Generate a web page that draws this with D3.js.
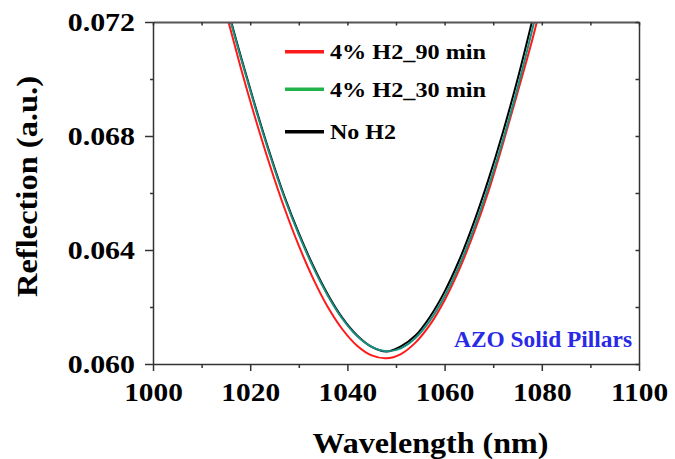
<!DOCTYPE html>
<html><head><meta charset="utf-8">
<script src="https://cdn.jsdelivr.net/npm/d3@7"></script>
<style>
body{margin:0;background:#fff;}
text{font-family:"Liberation Serif","Times New Roman",serif;font-weight:bold;fill:#000;}
</style>
</head><body>
<svg id="c" width="675" height="459"></svg>
<script>
// ---- data ----
const wavelengths = [1012,1015,1018,1021,1024,1027,1030,1033,1036,1039,1042,1045,1048,1051,1054,1057,1060,1063,1066,1069,1072,1075,1078,1081];
const h2_90min = [0.07435,0.07234,0.07043,0.06865,0.06700,0.06549,0.06415,0.06298,0.06199,0.06121,0.06064,0.06030,0.06020,0.06035,0.06075,0.06138,0.06224,0.06331,0.06459,0.06605,0.06773,0.06952,0.07135,0.07340];
const h2_30min = [0.07468,0.07265,0.07078,0.06902,0.06736,0.06585,0.06454,0.06338,0.06239,0.06158,0.06098,0.06060,0.06045,0.06055,0.06091,0.06153,0.06238,0.06345,0.06474,0.06621,0.06786,0.06968,0.07170,0.07387];
const noH2 = [0.07473,0.07270,0.07083,0.06907,0.06741,0.06590,0.06459,0.06343,0.06243,0.06161,0.06100,0.06060,0.06044,0.06062,0.06100,0.06166,0.06254,0.06364,0.06496,0.06646,0.06813,0.06998,0.07203,0.07421];
const seriesNames = ["4% H2_90 min","4% H2_30 min","No H2"];
const xTickValues = [1000,1020,1040,1060,1080,1100];
const xMinorValues = [1010,1030,1050,1070,1090];
const yTickValues = [0.060,0.064,0.068,0.072];
const yMinorValues = [0.062,0.066,0.070];
const annotation = "AZO Solid Pillars";
const xTitle = "Wavelength (nm)";
const yTitle = "Reflection (a.u.)";

// ---- layout ----
const L=153, R=639, T=22, B=364;
const svg = d3.select("#c");
const x = d3.scaleLinear().domain([1000,1100]).range([L,R]);
const y = d3.scaleLinear().domain([0.060,0.072]).range([B,T]);

svg.append("defs").append("clipPath").attr("id","clip")
  .append("rect").attr("x",L).attr("y",T).attr("width",R-L).attr("height",B-T);

const legendColors = ["#ff1a1a","#22b24c","#000000"];
const drawOrder = [[h2_90min,"#ff1a1a"],[noH2,"#000"],[h2_30min,"#1a8f80"]];

const line = d3.line().x((d,i)=>x(wavelengths[i])).y(d=>y(d)).curve(d3.curveCatmullRom);
const g = svg.append("g").attr("clip-path","url(#clip)");
drawOrder.forEach(([vals,col])=>{
  g.append("path").datum(vals).attr("d",line).attr("fill","none")
   .attr("stroke",col).attr("stroke-width",2);
});

// ---- axes ----
const axisColor = "#333";
function styleAxis(sel){
  sel.selectAll("path,line").attr("stroke",axisColor).attr("stroke-width",1.5);
}
// bottom
const bx = svg.append("g").attr("transform",`translate(0,${B})`)
  .call(d3.axisBottom(x).tickValues(xTickValues).tickSize(7).tickSizeOuter(0).tickFormat(d3.format("d")));
bx.selectAll("text").attr("y",0).attr("dy",0)
  .attr("transform","translate(0,37) scale(1.13,1)")
  .style("font-size","26px").attr("fill","#000");
styleAxis(bx);
const bxm = svg.append("g").attr("transform",`translate(0,${B})`)
  .call(d3.axisBottom(x).tickValues(xMinorValues).tickSize(4).tickSizeOuter(0).tickFormat(""));
styleAxis(bxm); bxm.select(".domain").remove();
// top
const tx = svg.append("g").attr("transform",`translate(0,${T})`)
  .call(d3.axisTop(x).tickValues(xTickValues.concat(xMinorValues)).tickSize(-3.5).tickSizeOuter(0).tickFormat(""));
styleAxis(tx);
tx.select(".domain").attr("stroke","#555").attr("stroke-width",2);
// left
const ly = svg.append("g").attr("transform",`translate(${L},0)`)
  .call(d3.axisLeft(y).tickValues(yTickValues).tickSize(8).tickSizeOuter(0).tickFormat(d3.format(".3f")));
ly.selectAll("text").attr("x",0).attr("dy","0.34em")
  .attr("transform","translate(-18,0) scale(1.15,1)")
  .style("font-size","26px").attr("fill","#000");
styleAxis(ly);
const lym = svg.append("g").attr("transform",`translate(${L},0)`)
  .call(d3.axisLeft(y).tickValues(yMinorValues).tickSize(3).tickSizeOuter(0).tickFormat(""));
styleAxis(lym); lym.select(".domain").remove();
// right
const ry = svg.append("g").attr("transform",`translate(${R},0)`)
  .call(d3.axisRight(y).tickValues(yTickValues.concat(yMinorValues)).tickSize(-3.5).tickSizeOuter(0).tickFormat(""));
styleAxis(ry);

// ---- titles ----
svg.append("text").attr("x",430.5).attr("y",452.7).attr("text-anchor","middle")
  .style("font-size","29px").attr("textLength",236).attr("lengthAdjust","spacingAndGlyphs").text(xTitle);
svg.append("text").attr("transform","translate(37,186.5) rotate(-90)").attr("text-anchor","middle")
  .style("font-size","29px").attr("textLength",221).attr("lengthAdjust","spacingAndGlyphs").text(yTitle);

// ---- legend ----
const legY = [51.7, 89.3, 131.7];
const legW = [156, 156, 66];
seriesNames.forEach((n,i)=>{
  svg.append("line").attr("x1",285).attr("x2",324).attr("y1",legY[i]).attr("y2",legY[i])
    .attr("stroke",legendColors[i]).attr("stroke-width",3.5);
  svg.append("text").attr("x",330).attr("y",legY[i]+7.2)
    .style("font-size","20px").attr("textLength",legW[i]).attr("lengthAdjust","spacingAndGlyphs").text(n);
});

// ---- annotation ----
svg.append("text").attr("x",454).attr("y",347.3)
  .style("font-size","23px").style("fill","#2a2ae6")
  .attr("textLength",178).attr("lengthAdjust","spacingAndGlyphs").text(annotation);
</script>
</body></html>
